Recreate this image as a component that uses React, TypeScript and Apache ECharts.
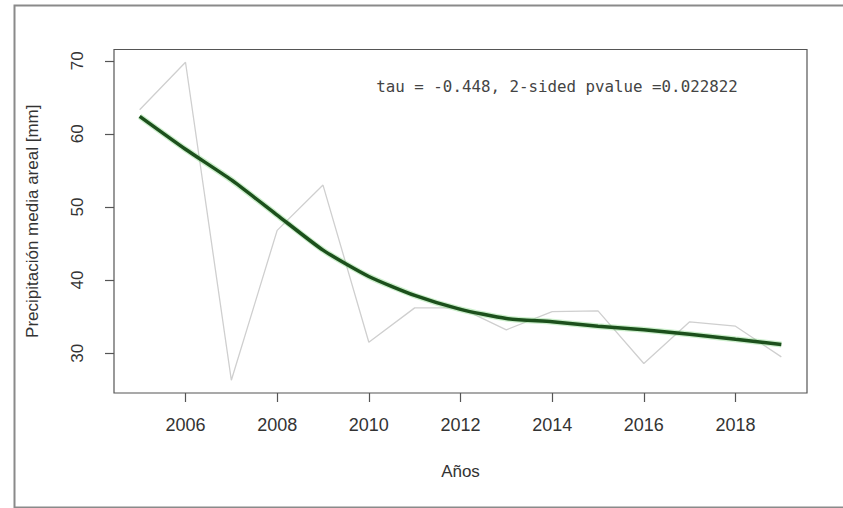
import React, { useEffect, useRef } from "react";
import * as echarts from "echarts";

const years = [2005, 2006, 2007, 2008, 2009, 2010, 2011, 2012, 2013, 2014, 2015, 2016, 2017, 2018, 2019];
const precip = [63.3, 69.8, 26.3, 46.8, 53.0, 31.5, 36.2, 36.2, 33.2, 35.7, 35.8, 28.6, 34.3, 33.7, 29.5];
const lowess = [62.4, 57.9, 53.7, 48.9, 44.1, 40.5, 37.9, 36.0, 34.75, 34.3, 33.7, 33.2, 32.6, 31.9, 31.2];
const xTicks = [2006, 2008, 2010, 2012, 2014, 2016, 2018];
const yTicks = [30, 40, 50, 60, 70];
const annotation = "tau = -0.448, 2-sided pvalue =0.022822";
const xTitle = "Años";
const yTitle = "Precipitación media areal [mm]";

export default function App() {
  const ref = useRef<HTMLDivElement>(null);
  useEffect(() => {
    if (!ref.current) return;
    const chart = echarts.init(ref.current, null, { renderer: "svg" });
    const xr = years[years.length - 1] - years[0];
    const xMin = years[0] - 0.04 * xr;
    const xMax = years[years.length - 1] + 0.04 * xr;
    const yLo = Math.min(...precip);
    const yHi = Math.max(...precip);
    const yr = yHi - yLo;
    const yMin = yLo - 0.04 * yr;
    const yMax = yHi + 0.04 * yr;
    const font = "Liberation Sans, Arial, sans-serif";
    chart.setOption({
      animation: false,
      backgroundColor: "#ffffff",
      grid: {
        left: 114,
        top: 49.5,
        right: 36,
        bottom: 115,
        show: true,
        borderColor: "#555555",
        borderWidth: 1.2,
        backgroundColor: "transparent",
      },
      xAxis: {
        type: "value",
        min: xMin,
        max: xMax,
        name: xTitle,
        nameLocation: "middle",
        nameGap: 70,
        nameTextStyle: { fontFamily: font, fontSize: 17, color: "#333" },
        axisLine: { show: false },
        splitLine: { show: false },
        axisTick: {
          show: true,
          length: 9,
          inside: false,
          customValues: xTicks,
          lineStyle: { color: "#555", width: 1.2 },
        },
        axisLabel: {
          customValues: xTicks,
          formatter: (v: number) => String(Math.round(v)),
          margin: 23,
          fontFamily: font,
          fontSize: 18,
          color: "#333",
        },
      },
      yAxis: {
        type: "value",
        min: yMin,
        max: yMax,
        name: yTitle,
        nameLocation: "middle",
        nameGap: 73,
        nameRotate: 90,
        nameTextStyle: { fontFamily: font, fontSize: 17, color: "#333" },
        axisLine: { show: false },
        splitLine: { show: false },
        axisTick: {
          show: true,
          length: 9,
          inside: false,
          customValues: yTicks,
          lineStyle: { color: "#555", width: 1.2 },
        },
        axisLabel: {
          customValues: yTicks,
          formatter: (v: number) => String(Math.round(v)),
          rotate: 90,
          margin: 28,
          fontFamily: font,
          fontSize: 17,
          color: "#333",
        },
      },
      graphic: [
        {
          type: "rect",
          left: 12,
          top: 3,
          shape: { width: 840, height: 502 },
          style: { fill: "none", stroke: "#8a8a8a", lineWidth: 2 },
          silent: true,
        },
        {
          type: "text",
          x: 557,
          y: 86,
          style: {
            text: annotation,
            fontFamily: "DejaVu Sans Mono, monospace",
            fontSize: 15.8,
            fill: "#444",
            align: "center",
            verticalAlign: "middle",
          },
        },
      ],
      series: [
        {
          type: "line",
          data: years.map((y, i) => [y, precip[i]]),
          symbol: "none",
          lineStyle: { color: "#cfcfcf", width: 1.3 },
          z: 2,
        },
        {
          type: "line",
          data: years.map((y, i) => [y, lowess[i]]),
          symbol: "none",
          smooth: 0.2,
          lineStyle: { color: "rgba(110,210,110,0.35)", width: 6 },
          z: 3,
        },
        {
          type: "line",
          data: years.map((y, i) => [y, lowess[i]]),
          symbol: "none",
          smooth: 0.2,
          lineStyle: { color: "#1c501c", width: 3.5 },
          z: 4,
        },
      ],
    });
    return () => chart.dispose();
  }, []);
  return (
    <div style={{ position: "fixed", left: 0, top: 0, width: 843, height: 508, background: "#fff" }}>
      <div ref={ref} style={{ width: 843, height: 508 }} />
    </div>
  );
}
